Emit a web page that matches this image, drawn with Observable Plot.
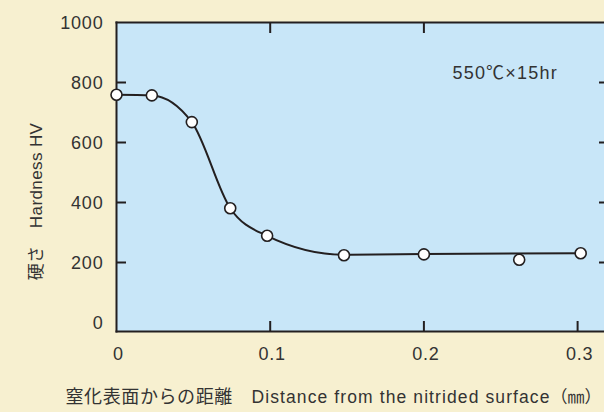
<!DOCTYPE html>
<html>
<head>
<meta charset="utf-8">
<script src="https://cdn.jsdelivr.net/npm/d3@7"></script>
<script src="https://cdn.jsdelivr.net/npm/@observablehq/plot@0.6"></script>
<style>
  html, body { margin: 0; padding: 0; background: #f7f0d0; overflow: hidden; }
</style>
</head>
<body>
<div id="chart"></div>
<script>
// Measured points: distance from nitrided surface (mm) and hardness HV
const distance = [0, 0.023, 0.049, 0.074, 0.098, 0.148, 0.200, 0.262, 0.302];
const hardness = [759, 757, 668, 381, 289, 224, 227, 209, 231];
// Fitted curve knots (the drawn line skips the point at 0.262)
const curveDistance = [0, 0.023, 0.049, 0.074, 0.098, 0.148, 0.200, 0.302];
const curveHardness = [759, 757, 668, 381, 289, 226, 228, 231];
// Ticks
const yTickLabels = [0, 200, 400, 600, 800, 1000];
const yInnerTicks = [200, 400, 600, 800];
const xTickLabels = [0, 0.1, 0.2, 0.3];
const xBottomTicks = [0.1, 0.2, 0.3];
const xTopTicks = [0.1, 0.2];
// Texts
const xTitleJa = "窒化表面からの距離　";
const xTitleEn = "Distance from the nitrided surface";
const xTitleUnit = "（㎜）";
const xTitle = xTitleJa + xTitleEn + xTitleUnit;
const yTitle = "硬さ　Hardness HV";
const annotation = "550℃×15hr";

const points = distance.map((d, i) => ({x: d, y: hardness[i]}));
const curve = curveDistance.map((d, i) => ({x: d, y: curveHardness[i]}));

const ink = "#231f20";
const textColor = "#333333";

const chart = Plot.plot({
  width: 604,
  height: 412,
  marginLeft: 116,
  marginRight: 0,
  marginTop: 22,
  marginBottom: 81,
  x: {domain: [0, 0.3175]},
  y: {domain: [-30, 1000]},
  style: {background: "#f7f0d0", fontFamily: "'Liberation Sans', Arial, 'Noto Sans CJK JP', sans-serif", color: textColor},
  marks: [
    Plot.frame({fill: "#c8e6f8", stroke: null}),
    Plot.frame({anchor: "left", stroke: ink, strokeWidth: 2}),
    Plot.frame({anchor: "top", stroke: ink, strokeWidth: 2}),
    Plot.frame({anchor: "bottom", stroke: ink, strokeWidth: 2}),
    Plot.axisY({anchor: "left", ticks: yInnerTicks, tickSize: -10, tickFormat: () => "", label: null, stroke: ink, strokeWidth: 2}),
    Plot.axisY({anchor: "right", ticks: yInnerTicks, tickSize: -6, tickFormat: () => "", label: null, stroke: ink, strokeWidth: 2}),
    Plot.axisY({anchor: "left", ticks: yTickLabels, tickSize: 0, tickPadding: 13, fontSize: 18, label: null, color: textColor, dy: 1, tickFormat: d => String(d)}),
    Plot.axisX({anchor: "bottom", ticks: xBottomTicks, tickSize: -10, tickFormat: () => "", label: null, stroke: ink, strokeWidth: 2}),
    Plot.axisX({anchor: "top", ticks: xTopTicks, tickSize: -10, tickFormat: () => "", label: null, stroke: ink, strokeWidth: 2}),
    Plot.axisX({anchor: "bottom", ticks: xTickLabels, tickSize: 0, tickPadding: 16, fontSize: 18, label: null, color: textColor, dx: 2, tickFormat: d => String(d)}),
    Plot.line(curve, {x: "x", y: "y", curve: "monotone-x", stroke: ink, strokeWidth: 2}),
    Plot.dot(points, {x: "x", y: "y", r: 5.5, fill: "white", stroke: ink, strokeWidth: 1.6}),
    Plot.text([annotation], {x: 0.2186, y: 830, text: d => d, textAnchor: "start", fontSize: 18, fill: textColor}),
    Plot.text([xTitle], {frameAnchor: "bottom-left", dx: -51, dy: 71, text: d => d, textAnchor: "start", fontSize: 17, fill: textColor}),
    Plot.text([yTitle], {frameAnchor: "left", rotate: -90, dx: -80, dy: 24.5, text: d => d, textAnchor: "middle", fontSize: 17, fill: textColor})
  ]
});
document.getElementById("chart").appendChild(chart);

// typography tweaks: tracking of the original lettering, mixed sizes in the x title
d3.select(chart).selectAll("text").each(function() {
  const t = this.textContent;
  if (t === xTitle) {
    const sel = d3.select(this).text(null);
    sel.append("tspan").text(xTitleJa).style("font-size", "18px").style("letter-spacing", "0.6px");
    sel.append("tspan").text(xTitleEn).style("font-size", "17.5px").style("letter-spacing", "1.1px");
    sel.append("tspan").text(xTitleUnit).style("font-size", "17px").style("letter-spacing", "0px");
  } else if (t === yTitle) {
    this.style.letterSpacing = "0.4px";
  } else if (t === annotation) {
    this.style.letterSpacing = "1.2px";
  } else if (/^\d+(\.\d+)?$/.test(t)) {
    this.style.letterSpacing = "0.8px";
  }
});
</script>
</body>
</html>
